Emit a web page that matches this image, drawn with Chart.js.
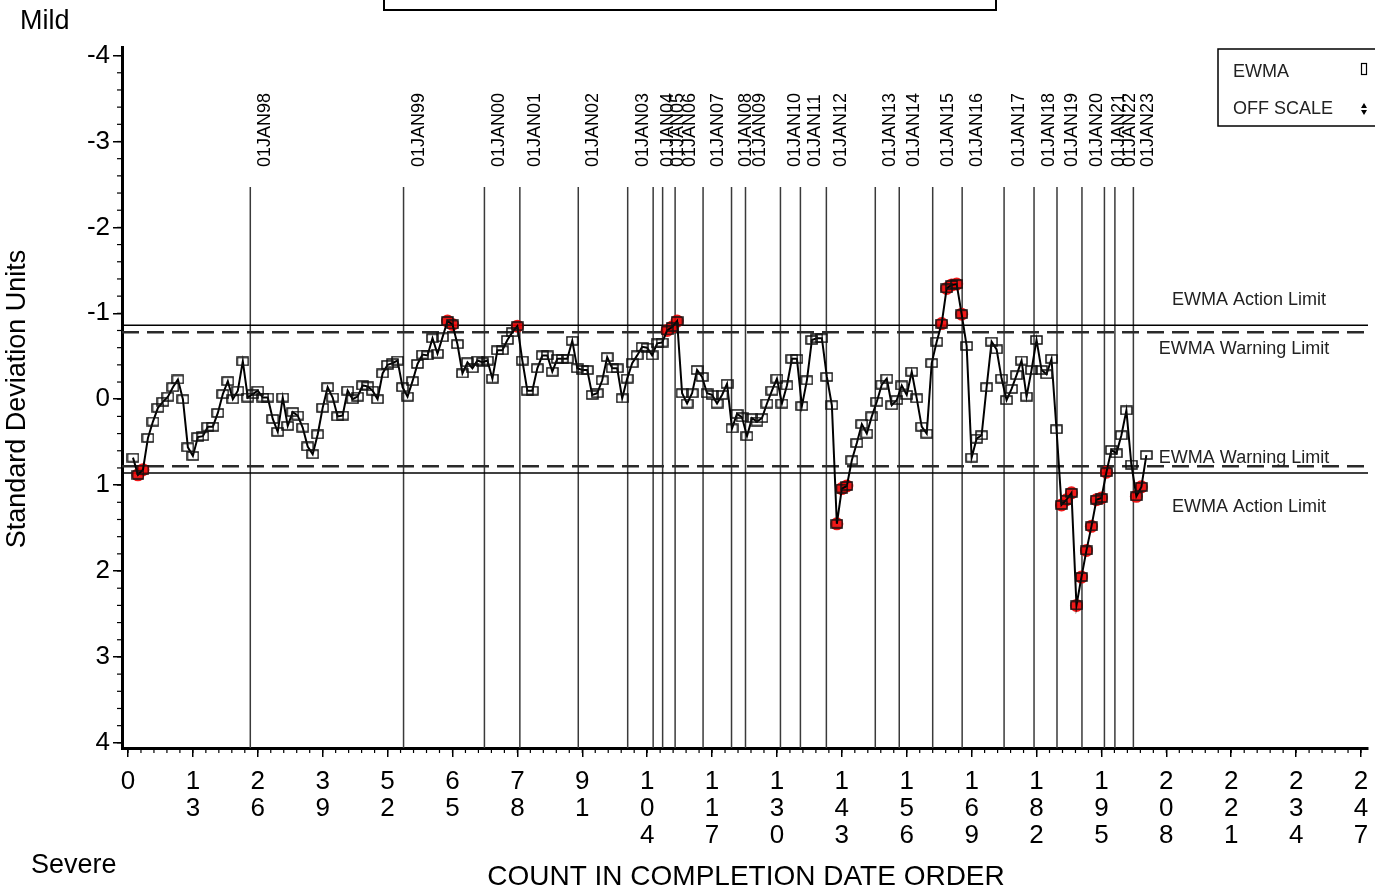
<!DOCTYPE html>
<html>
<head>
<meta charset="utf-8">
<title>EWMA chart</title>
<script src="https://cdn.jsdelivr.net/npm/chart.js@4.4.1/dist/chart.umd.min.js"></script>
<style>
html, body { margin: 0; padding: 0; background: #fff; }
#wrap { width: 1375px; height: 891px; }
</style>
</head>
<body>
<div id="wrap"><canvas id="ewmaChart" width="1375" height="891"></canvas></div>
<script>
// EWMA value for each count (count 1 .. 204), in standard deviation units
var ewma = [
  0.68, 0.88, 0.82, 0.45, 0.26, 0.10, 0.03, -0.03, -0.14, -0.23,
  0.00, 0.56, 0.66, 0.44, 0.43, 0.32, 0.32, 0.16, -0.06, -0.21,
  0.00, -0.10, -0.44, -0.02, -0.06, -0.10, -0.02, -0.02, 0.23, 0.38,
  -0.02, 0.31, 0.15, 0.19, 0.33, 0.55, 0.64, 0.41, 0.10, -0.14,
  -0.02, 0.20, 0.19, -0.10, 0.00, -0.03, -0.16, -0.15, -0.10, 0.00,
  -0.30, -0.40, -0.42, -0.45, -0.14, -0.03, -0.21, -0.41, -0.52, -0.51,
  -0.71, -0.53, -0.72, -0.91, -0.87, -0.64, -0.30, -0.43, -0.36, -0.45,
  -0.43, -0.45, -0.24, -0.57, -0.57, -0.69, -0.78, -0.85, -0.45, -0.10,
  -0.10, -0.36, -0.51, -0.51, -0.32, -0.47, -0.47, -0.47, -0.68, -0.36,
  -0.34, -0.34, -0.05, -0.07, -0.22, -0.49, -0.36, -0.36, -0.01, -0.24,
  -0.42, -0.51, -0.61, -0.60, -0.51, -0.65, -0.66, -0.80, -0.84, -0.91,
  -0.07, 0.05, -0.07, -0.34, -0.26, -0.07, -0.05, 0.05, -0.05, -0.18,
  0.34, 0.17, 0.21, 0.43, 0.22, 0.26, 0.22, 0.05, -0.10, -0.24,
  0.05, -0.16, -0.47, -0.47, 0.08, -0.22, -0.69, -0.71, -0.71, -0.26,
  0.07, 1.45, 1.04, 1.01, 0.71, 0.51, 0.29, 0.40, 0.20, 0.03,
  -0.17, -0.24, 0.07, 0.01, -0.16, -0.05, -0.32, -0.01, 0.32, 0.40,
  -0.42, -0.67, -0.88, -1.29, -1.33, -1.34, -0.99, -0.62, 0.68, 0.46,
  0.42, -0.14, -0.67, -0.58, -0.24, 0.01, -0.12, -0.28, -0.45, -0.03,
  -0.34, -0.69, -0.34, -0.29, -0.47, 0.35, 1.23, 1.17, 1.09, 2.40,
  2.07, 1.76, 1.48, 1.17, 1.15, 0.85, 0.59, 0.63, 0.42, 0.13,
  0.76, 1.13, 1.02, 0.65
];
// counts flagged outside the limits (red)
var offScale = [2, 3, 64, 65, 78, 108, 109, 110, 142, 143, 144, 163, 164, 165, 166, 167,
  187, 188, 189, 190, 191, 192, 193, 194, 195, 196, 202, 203];

var xTicks = [0, 13, 26, 39, 52, 65, 78, 91, 104, 117, 130, 143, 156, 169, 182, 195, 208, 221, 234, 247];
var yTicks = [-4, -3, -2, -1, 0, 1, 2, 3, 4];

// first count of each year
var yearLabels = ['01JAN98', '01JAN99', '01JAN00', '01JAN01', '01JAN02', '01JAN03', '01JAN04', '01JAN05',
  '01JAN06', '01JAN07', '01JAN08', '01JAN09', '01JAN10', '01JAN11', '01JAN12', '01JAN13', '01JAN14',
  '01JAN15', '01JAN16', '01JAN17', '01JAN18', '01JAN19', '01JAN20', '01JAN21', '01JAN22', '01JAN23'];
var yearPos = [24.5, 55.2, 71.4, 78.5, 90.2, 100.1, 105.2, 107.1, 109.6, 115.2, 120.9, 123.7, 130.7,
  134.7, 139.9, 149.7, 154.5, 161.2, 167.1, 175.5, 181.5, 186.1, 191.1, 195.6, 197.7, 201.4];

var actionLimit = 0.86;
var warningLimit = 0.78;

var FONT = "'Liberation Sans', Arial, sans-serif";

// open box marker
var box = document.createElement('canvas');
box.width = 13; box.height = 10;
var bctx = box.getContext('2d');
bctx.strokeStyle = '#111';
bctx.lineWidth = 1.5;
bctx.strokeRect(1, 1, 11, 8);

var mainData = [];
for (var i = 0; i < ewma.length; i++) mainData.push({x: i + 1, y: ewma[i]});
var redData = offScale.map(function (c) { return {x: c, y: ewma[c - 1]}; });

var decor = {
  id: 'decor',
  beforeDatasetsDraw: function (chart) {
    var ctx = chart.ctx, a = chart.chartArea;
    var xs = chart.scales.x, ys = chart.scales.y;
    ctx.save();
    // year lines + labels
    ctx.strokeStyle = '#3a3a3a';
    ctx.lineWidth = 1.5;
    var lineTop = 187;
    for (var i = 0; i < yearPos.length; i++) {
      var px = xs.getPixelForValue(yearPos[i]);
      ctx.beginPath();
      ctx.moveTo(px, lineTop);
      ctx.lineTo(px, a.bottom);
      ctx.stroke();
      ctx.save();
      ctx.translate(px + 15, 167);
      ctx.rotate(-Math.PI / 2);
      ctx.fillStyle = '#000';
      ctx.font = '18px ' + FONT;
      ctx.textAlign = 'left';
      ctx.textBaseline = 'middle';
      ctx.fillText(yearLabels[i], 0, 0);
      ctx.restore();
    }
    // limits
    [-actionLimit, actionLimit].forEach(function (v) {
      var py = ys.getPixelForValue(v);
      ctx.strokeStyle = '#000';
      ctx.lineWidth = 1.5;
      ctx.setLineDash([]);
      ctx.beginPath(); ctx.moveTo(a.left, py); ctx.lineTo(a.right, py); ctx.stroke();
    });
    [-warningLimit, warningLimit].forEach(function (v) {
      var py = ys.getPixelForValue(v);
      ctx.strokeStyle = '#2a2a2a';
      ctx.lineWidth = 2.6;
      ctx.setLineDash([17, 8]);
      ctx.beginPath(); ctx.moveTo(a.left, py); ctx.lineTo(a.right, py); ctx.stroke();
    });
    ctx.setLineDash([]);
    ctx.fillStyle = '#222';
    ctx.font = '18px ' + FONT;
    ctx.textAlign = 'center';
    ctx.textBaseline = 'middle';
    ctx.fillText('EWMA Action Limit', 1249, ys.getPixelForValue(-actionLimit) - 25);
    ctx.fillText('EWMA Warning Limit', 1244, ys.getPixelForValue(-warningLimit) + 17);
    ctx.fillText('EWMA Warning Limit', 1244, ys.getPixelForValue(warningLimit) - 8);
    ctx.fillText('EWMA Action Limit', 1249, ys.getPixelForValue(actionLimit) + 34);
    ctx.restore();
  },
  afterDraw: function (chart) {
    var ctx = chart.ctx, a = chart.chartArea;
    var xs = chart.scales.x, ys = chart.scales.y;
    ctx.save();
    // minor ticks
    ctx.strokeStyle = '#000';
    ctx.lineWidth = 1.2;
    for (var v = -4; v <= 4.001; v += 0.2) {
      var py = ys.getPixelForValue(v);
      ctx.beginPath(); ctx.moveTo(a.left - 5, py); ctx.lineTo(a.left, py); ctx.stroke();
    }
    for (var c = 0; c <= 247.01; c += 2.6) {
      var px = xs.getPixelForValue(c);
      ctx.beginPath(); ctx.moveTo(px, a.bottom); ctx.lineTo(px, a.bottom + 5); ctx.stroke();
    }
    // texts
    ctx.fillStyle = '#000';
    ctx.font = '27px ' + FONT;
    ctx.textBaseline = 'middle';
    ctx.textAlign = 'left';
    ctx.fillText('Mild', 20, 22);
    ctx.fillText('Severe', 31, 866);
    ctx.textAlign = 'center';
    ctx.font = '28px ' + FONT;
    ctx.fillText('COUNT IN COMPLETION DATE ORDER', 746, 877);
    ctx.save();
    ctx.translate(18, 399);
    ctx.rotate(-Math.PI / 2);
    ctx.font = '27px ' + FONT;
    ctx.fillText('Standard Deviation Units', 0, 0);
    ctx.restore();
    // top box (cut off)
    ctx.strokeStyle = '#000';
    ctx.lineWidth = 2;
    ctx.beginPath();
    ctx.moveTo(384, -2); ctx.lineTo(384, 10); ctx.lineTo(996, 10); ctx.lineTo(996, -2);
    ctx.stroke();
    // legend
    ctx.lineWidth = 1.5;
    ctx.strokeRect(1218, 49, 170, 77);
    ctx.font = '18px ' + FONT;
    ctx.textAlign = 'left';
    ctx.fillStyle = '#222';
    ctx.fillText('EWMA', 1233, 72);
    ctx.fillText('OFF SCALE', 1233, 109);
    ctx.lineWidth = 1.2;
    ctx.strokeRect(1361.5, 63.5, 5, 11);
    ctx.fillStyle = '#000';
    ctx.beginPath();
    ctx.moveTo(1364, 103); ctx.lineTo(1367, 108); ctx.lineTo(1361, 108); ctx.closePath(); ctx.fill();
    ctx.beginPath();
    ctx.moveTo(1364, 115); ctx.lineTo(1367, 110); ctx.lineTo(1361, 110); ctx.closePath(); ctx.fill();
    ctx.restore();
  }
};

new Chart(document.getElementById('ewmaChart'), {
  type: 'scatter',
  data: {
    datasets: [
      {
        label: 'EWMA',
        data: mainData,
        showLine: true,
        borderColor: '#000',
        borderWidth: 2,
        tension: 0,
        pointStyle: box,
        pointRadius: 5,
        order: 1
      },
      {
        label: 'OFF SCALE',
        data: redData,
        showLine: false,
        pointStyle: 'circle',
        pointRadius: 6.5,
        backgroundColor: 'rgba(240,0,0,0.9)',
        borderWidth: 0,
        order: 2
      }
    ]
  },
  options: {
    responsive: false,
    animation: false,
    devicePixelRatio: 1,
    layout: { padding: { top: 47, right: 5, left: 0, bottom: 0 } },
    plugins: { legend: { display: false }, tooltip: { enabled: false } },
    scales: {
      x: {
        type: 'linear',
        min: -1.2,
        max: 248.4,
        afterBuildTicks: function (s) { s.ticks = xTicks.map(function (v) { return {value: v}; }); },
        afterFit: function (s) { s.height = 143; s.paddingLeft = 0; s.paddingRight = 0; },
        ticks: {
          color: '#000',
          padding: 11,
          autoSkip: false,
          maxRotation: 0,
          font: { family: FONT, size: 26, lineHeight: 1.04 },
          callback: function (v) { return String(v).split(''); }
        },
        grid: { drawOnChartArea: false, drawTicks: true, tickLength: 9, color: '#000', lineWidth: 1.5 },
        border: { display: true, color: '#000', width: 3 }
      },
      y: {
        type: 'linear',
        reverse: true,
        min: -4.1,
        max: 4.06,
        afterBuildTicks: function (s) { s.ticks = yTicks.map(function (v) { return {value: v}; }); },
        afterFit: function (s) { s.width = 122; s.paddingTop = 0; s.paddingBottom = 0; },
        ticks: {
          color: '#000',
          padding: 3,
          font: { family: FONT, size: 26 },
          callback: function (v) { return String(v); }
        },
        grid: { drawOnChartArea: false, drawTicks: true, tickLength: 9, color: '#000', lineWidth: 1.5 },
        border: { display: true, color: '#000', width: 3 }
      }
    }
  },
  plugins: [decor]
});
</script>
</body>
</html>
